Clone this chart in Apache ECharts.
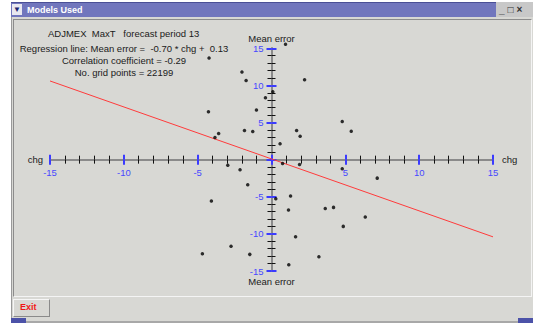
<!DOCTYPE html>
<html>
<head>
<meta charset="utf-8">
<title>Models Used</title>
<script src="https://cdn.jsdelivr.net/npm/echarts@6/dist/echarts.min.js"></script>
<style>
  html, body { margin: 0; padding: 0; width: 534px; height: 328px; overflow: hidden; background: #fff;
    font-family: "Liberation Sans", Arial, sans-serif; }
  #win { position: absolute; left: 11px; top: 2px; width: 522px; height: 321px; background: #d8d8d4;
    border-left: 1px solid #9a9a9a; border-bottom: 2px solid #a8a8a8; box-sizing: border-box; }
  #bar { position: absolute; left: 11px; top: 2px; width: 485px; height: 15px; background: #7176bd;
    border-top: 1px solid #4a4f96; box-sizing: border-box; }
  #bar .ico { position: absolute; left: 1px; top: 1px; width: 10px; height: 11px; background: #e8e8f0;
    color: #1c2470; font-size: 8px; line-height: 11px; text-align: center; font-weight: bold; }
  #bar .ttl { position: absolute; left: 16px; top: 1px; color: #fff; font-size: 9px; font-weight: bold; line-height: 12px; }
  #btns { position: absolute; left: 496px; top: 2px; width: 37px; height: 15px; background: #c8c8c8;
    font-size: 10px; font-weight: bold; color: #333; line-height: 15px; letter-spacing: 3px; text-indent: 3px; }
  #panel { position: absolute; left: 13px; top: 19px; width: 519px; height: 278px; box-sizing: border-box;
    border-left: 1px solid #8c8c8c; border-top: 1px solid #8c8c8c; border-right: 1px solid #f4f4f4; border-bottom: 1px solid #f4f4f4; }
  #exit { position: absolute; left: 13px; top: 299px; width: 37px; height: 18px; box-sizing: border-box;
    border: 1px solid #f6f6f6; border-right-color: #8a8a8a; border-bottom-color: #8a8a8a; background: #d8d8d4;
    color: #f01818; font-size: 9px; font-weight: bold; line-height: 15px; padding-left: 6px; }
  .corner { position: absolute; top: 318px; width: 15px; height: 5px; background: #4c52a8; }
  #chart { position: absolute; left: 0; top: 0; width: 534px; height: 328px; }
</style>
</head>
<body>
<div id="win"></div>
<div id="bar"><div class="ico">&#9660;</div><div class="ttl">Models Used</div></div>
<div id="btns">_&#9633;&#215;</div>
<div id="panel"></div>
<div id="exit">Exit</div>
<div class="corner" style="left:11px"></div>
<div class="corner" style="left:518px"></div>
<div id="chart"></div>
<script>
// valeurs
var chgValues = [0.95, -4.23, -2.0, -1.72, 2.24, 0.09, -0.41, -1.02, -4.27, -1.83, -1.27, -3.58, -3.83,
  1.7, 1.94, 0.58, 4.79, 5.4, 4.79, 7.16, 3.64, 4.2, 6.35, 4.86, -2.96, -2.13, 0.75, 1.9, -1.61,
  -4.07, 0.29, 1.29, 1.15, 1.63, -2.74, -4.68, -1.47, 1.17, 3.21];
var errorValues = [15.55, 13.7, 11.8, 10.66, 10.75, 9.14, 8.33, 6.7, 6.45, 3.93, 3.8, 3.53, 2.99,
  3.93, 3.16, 2.14, 5.14, 3.84, -1.22, -2.49, -6.57, -6.43, -7.73, -8.99, -0.74, -1.36, -0.51, -0.65, -3.38,
  -5.58, -5.27, -4.91, -6.79, -10.4, -11.68, -12.67, -12.76, -14.15, -13.07];
// droite de regression : extremites
var regChg = [-15, 15];
var regError = [10.6, -10.4];
var axisMin = -15, axisMax = 15, axisStep = 5;
var headerLines = [
  'ADJMEX  MaxT   forecast period 13',
  'Regression line: Mean error =  -0.70 * chg +  0.13',
  'Correlation coefficient = -0.29',
  'No. grid points = 22199'
];

var chart = echarts.init(document.getElementById('chart'), null, { renderer: 'svg' });

var blue = '#3b3bff';
var txt = '#202020';
var fnt = 'Liberation Sans';
var gridBox = { left: 50, top: 48.3, width: 443, height: 222.7 };
var noZero = function (v) { return v === 0 ? '' : String(v); };

// les axes passent par le centre : decalage depuis le bord de la grille
var axisPart = function (inside, showLabel, dir) {
  return {
    type: 'value', min: axisMin, max: axisMax, interval: axisStep,
    offset: dir === 'x' ? -gridBox.height / 2 : -gridBox.width / 2,
    axisLine: { onZero: false, lineStyle: { color: '#8a8a8a', width: 2 } },
    axisTick: { show: true, inside: inside, length: 5, lineStyle: { color: blue, width: 2 } },
    minorTick: { show: true, splitNumber: 5, length: 4, lineStyle: { color: '#111', width: 1 } },
    splitLine: { show: false },
    axisLabel: { show: showLabel, color: '#4848ff', fontSize: 9.5, fontFamily: fnt,
      margin: dir === 'x' ? 8 : 8, formatter: noZero, showMinLabel: true, showMaxLabel: true }
  };
};

var x0 = axisPart(false, true, 'x');
x0.gridIndex = 0; x0.position = 'bottom'; x0.name = 'chg'; x0.nameLocation = 'end'; x0.nameGap = 9;
x0.nameTextStyle = { color: txt, fontSize: 9.5, fontFamily: fnt };
var x1 = axisPart(true, false, 'x');
x1.gridIndex = 1; x1.position = 'bottom'; x1.name = 'chg'; x1.nameLocation = 'start'; x1.nameGap = 7;
x1.nameTextStyle = { color: txt, fontSize: 9.5, fontFamily: fnt };
var y0 = axisPart(false, true, 'y');
y0.gridIndex = 0; y0.position = 'left'; y0.name = 'Mean error'; y0.nameLocation = 'end'; y0.nameGap = 4;
y0.nameTextStyle = { color: txt, fontSize: 9.5, fontFamily: fnt, align: 'center' };
var y1 = axisPart(true, false, 'y');
y1.gridIndex = 1; y1.position = 'left'; y1.name = 'Mean error'; y1.nameLocation = 'start'; y1.nameGap = 5;
y1.nameTextStyle = { color: txt, fontSize: 9.5, fontFamily: fnt, align: 'center', verticalAlign: 'top' };

var pts = chgValues.map(function (c, i) { return [c, errorValues[i]]; });
var reg = regChg.map(function (c, i) { return [c, regError[i]]; });

var hdrFont = '9.5px "Liberation Sans"';

chart.setOption({
  animation: false,
  backgroundColor: 'transparent',
  grid: [gridBox, gridBox],
  xAxis: [x0, x1],
  yAxis: [y0, y1],
  graphic: [
    { type: 'text', x: 48, y: 33, style: { text: headerLines[0], fill: txt, font: hdrFont, textVerticalAlign: 'middle' } },
    { type: 'text', x: 124, y: 48, style: { text: headerLines[1], fill: txt, font: hdrFont, textAlign: 'center', textVerticalAlign: 'middle' } },
    { type: 'text', x: 124, y: 60, style: { text: headerLines[2], fill: txt, font: hdrFont, textAlign: 'center', textVerticalAlign: 'middle' } },
    { type: 'text', x: 124, y: 72, style: { text: headerLines[3], fill: txt, font: hdrFont, textAlign: 'center', textVerticalAlign: 'middle' } }
  ],
  series: [
    {
      type: 'line', xAxisIndex: 0, yAxisIndex: 0, data: reg, symbol: 'none', z: 3,
      lineStyle: { color: '#ff3b3b', width: 1 }
    },
    {
      type: 'scatter', xAxisIndex: 0, yAxisIndex: 0, data: pts, clip: false, z: 4,
      symbolSize: 3.5, itemStyle: { color: '#000' }
    }
  ]
});
</script>
</body>
</html>
